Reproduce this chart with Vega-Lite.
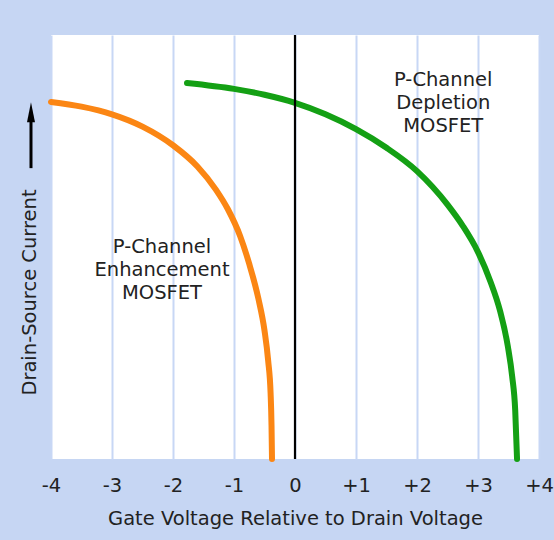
{
  "$schema": "https://vega.github.io/schema/vega-lite/v6.json",
  "width": 488,
  "height": 424,
  "autosize": {"type": "none"},
  "padding": {"left": 51, "top": 35, "right": 15, "bottom": 81},
  "background": "#c6d6f3",
  "config": {
    "view": {"fill": "white", "stroke": null},
    "font": "DejaVu Sans"
  },
  "datasets": {
    "curves": [
      {"series": "Enhancement", "x": -4, "y": 84.2},
      {"series": "Enhancement", "x": -3.5, "y": 83.1},
      {"series": "Enhancement", "x": -3, "y": 81.3},
      {"series": "Enhancement", "x": -2.5, "y": 78.4},
      {"series": "Enhancement", "x": -2, "y": 74.0},
      {"series": "Enhancement", "x": -1.6, "y": 69.0},
      {"series": "Enhancement", "x": -1.3, "y": 63.6},
      {"series": "Enhancement", "x": -1.1, "y": 58.9},
      {"series": "Enhancement", "x": -0.9, "y": 52.6},
      {"series": "Enhancement", "x": -0.75, "y": 46.0},
      {"series": "Enhancement", "x": -0.6, "y": 37.8},
      {"series": "Enhancement", "x": -0.5, "y": 30.3},
      {"series": "Enhancement", "x": -0.44, "y": 23.2},
      {"series": "Enhancement", "x": -0.4, "y": 15.5},
      {"series": "Enhancement", "x": -0.385, "y": 8.0},
      {"series": "Enhancement", "x": -0.377, "y": 0},
      {"series": "Depletion", "x": -1.77, "y": 88.7},
      {"series": "Depletion", "x": -1, "y": 87.3},
      {"series": "Depletion", "x": -0.5, "y": 85.9},
      {"series": "Depletion", "x": 0, "y": 84.0},
      {"series": "Depletion", "x": 0.5, "y": 81.3},
      {"series": "Depletion", "x": 1, "y": 77.8},
      {"series": "Depletion", "x": 1.5, "y": 73.4},
      {"series": "Depletion", "x": 2, "y": 67.9},
      {"series": "Depletion", "x": 2.5, "y": 60.0},
      {"series": "Depletion", "x": 2.75, "y": 55.0},
      {"series": "Depletion", "x": 3, "y": 48.8},
      {"series": "Depletion", "x": 3.2, "y": 42.0},
      {"series": "Depletion", "x": 3.36, "y": 35.0},
      {"series": "Depletion", "x": 3.49, "y": 26.5},
      {"series": "Depletion", "x": 3.56, "y": 19.5},
      {"series": "Depletion", "x": 3.61, "y": 11.5},
      {"series": "Depletion", "x": 3.64, "y": 0}
    ],
    "labels": [
      {"x": 2.43, "y": 89.4, "text": "P-Channel\nDepletion\nMOSFET"},
      {"x": -2.18, "y": 50.0, "text": "P-Channel\nEnhancement\nMOSFET"}
    ],
    "arrow": [
      {"x": -4.328, "y": 68.6, "y2": 81.1, "head": 81.8}
    ],
    "zero": [{"x": 0}]
  },
  "layer": [
    {
      "data": {"name": "curves"},
      "mark": {"type": "line", "strokeWidth": 6, "strokeCap": "round", "strokeJoin": "round", "interpolate": "monotone"},
      "encoding": {
        "x": {
          "field": "x", "type": "quantitative",
          "scale": {"domain": [-4, 4], "nice": false, "zero": false},
          "axis": {
            "values": [-4, -3, -2, -1, 0, 1, 2, 3, 4],
            "grid": true, "gridColor": "#c8d7f5", "gridWidth": 2,
            "domain": false, "ticks": false, "tickSize": 0,
            "labelExpr": "datum.value > 0 ? '+' + datum.value : '' + datum.value",
            "labelFontSize": 19.5, "labelColor": "#222", "labelPadding": 26,
            "labelBaseline": "middle", "labelFlush": false,
            "title": "Gate Voltage Relative to Drain Voltage",
            "titleFontSize": 19.5, "titleFontWeight": "normal", "titleColor": "#222",
            "titleY": 59, "titleBaseline": "middle"
          }
        },
        "y": {
          "field": "y", "type": "quantitative",
          "scale": {"domain": [0, 100], "nice": false},
          "axis": {
            "grid": false, "domain": false, "ticks": false, "labels": false,
            "title": "Drain-Source Current",
            "titleFontSize": 19.5, "titleFontWeight": "normal", "titleColor": "#222",
            "titleX": -22, "titleY": 257, "titleAlign": "center", "titleBaseline": "middle", "titleAngle": -90
          }
        },
        "color": {
          "field": "series", "type": "nominal",
          "scale": {"domain": ["Enhancement", "Depletion"], "range": ["#fb8614", "#14a014"]},
          "legend": null
        }
      }
    },
    {
      "data": {"name": "zero"},
      "mark": {"type": "rule", "color": "black", "strokeWidth": 2.2},
      "encoding": {"x": {"field": "x", "type": "quantitative"}}
    },
    {
      "data": {"name": "labels"},
      "mark": {"type": "text", "fontSize": 19.5, "lineHeight": 23, "align": "center", "baseline": "middle", "lineBreak": "\n", "color": "#222"},
      "encoding": {
        "x": {"field": "x", "type": "quantitative"},
        "y": {"field": "y", "type": "quantitative"},
        "text": {"field": "text"}
      }
    },
    {
      "data": {"name": "arrow"},
      "mark": {"type": "rule", "color": "black", "strokeWidth": 3},
      "encoding": {
        "x": {"field": "x", "type": "quantitative"},
        "y": {"field": "y", "type": "quantitative"},
        "y2": {"field": "y2"}
      }
    },
    {
      "data": {"name": "arrow"},
      "mark": {"type": "point", "shape": "M0,-1L0.4,1L-0.4,1Z", "filled": true, "color": "black", "opacity": 1, "size": 400},
      "encoding": {
        "x": {"field": "x", "type": "quantitative"},
        "y": {"field": "head", "type": "quantitative"}
      }
    }
  ]
}
